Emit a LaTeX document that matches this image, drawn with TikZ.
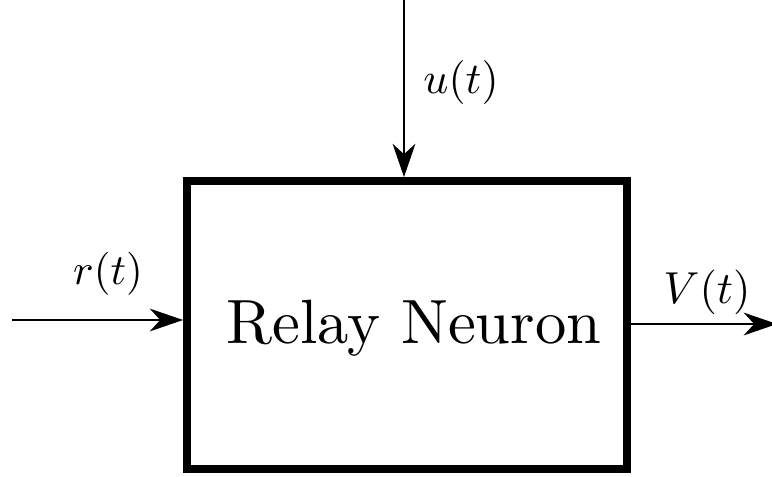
\documentclass[tikz,border=0pt]{standalone}
\usepackage{amsmath,amssymb}
\usepackage{graphicx}
\usetikzlibrary{arrows.meta}

\begin{document}
\begin{tikzpicture}[x=0.02cm,y=-0.02cm,
    sig/.style={line width=0.8pt,-{Stealth[length=19pt,width=13pt,inset=6pt]}},
    lbl/.style={anchor=base,inner sep=0pt}]
        \useasboundingbox (0,0) rectangle (772,477);
        \node[draw,line width=4.5pt,minimum width=8.8cm,minimum height=5.76cm] (neuron) at (407,325) {};
        \node[anchor=base,inner sep=0pt] (name) at (414,343) {\scalebox{3.56}{Relay Neuron}};
        \coordinate (utop) at (404,-5);
        \coordinate (rin) at (12,320);
        \coordinate (vout) at (777,324);
        \draw[sig] (utop) -- (utop |- neuron.north);
        \draw[sig] (rin) -- (rin -| neuron.west);
        \draw[sig] (neuron.east |- vout) -- (vout);
        \node[lbl] (r) at (108,284) {\scalebox{2.45}{$r(t)$}};
        \node[lbl] (u) at (461,93) {\scalebox{2.5}{$u(t)$}};
        \node[lbl] (v) at (707,303) {\scalebox{2.55}{$V(t)$}};
      \end{tikzpicture}
\end{document}
